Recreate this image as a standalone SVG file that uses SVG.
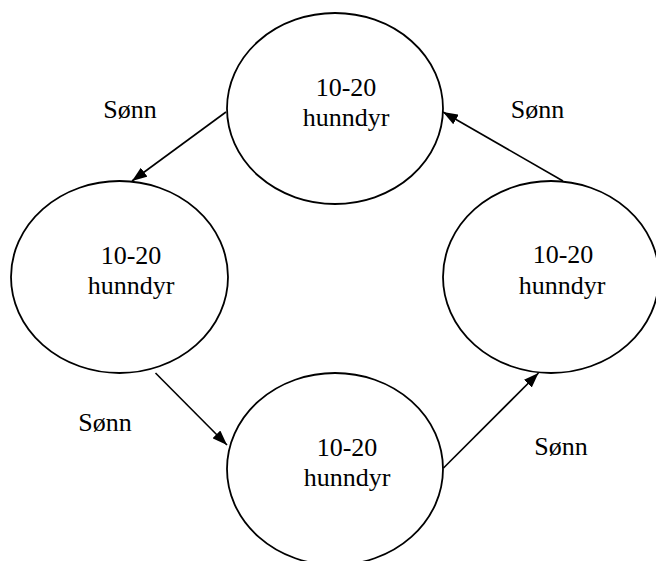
<svg xmlns="http://www.w3.org/2000/svg" width="656" height="561" viewBox="0 0 656 561">
<style>
.n{fill:#fff;stroke:#000;stroke-width:1.8}
.t{font-size:26px;fill:#000;text-anchor:middle}
.c{stroke:#000;stroke-width:1.6;fill:none;marker-end:url(#a)}
</style>
<defs>
<marker id="a" viewBox="0 0 15 11" refX="15" refY="5.5" markerWidth="15" markerHeight="11" markerUnits="userSpaceOnUse" orient="auto">
<path d="M0,0L15,5.5L0,11z" fill="#000"/>
</marker>
</defs>
<rect width="656" height="561" fill="#fff"/>
<g font-family="Liberation Serif, Times New Roman, DejaVu Serif, serif">
<g id="top"><ellipse class="n" cx="335" cy="108.5" rx="108" ry="95.5"/><text class="t" x="346" y="96">10-20</text><text class="t" x="346" y="126">hunndyr</text></g>
<g id="left"><ellipse class="n" cx="119.5" cy="277" rx="108.5" ry="96"/><text class="t" x="131" y="264">10-20</text><text class="t" x="131" y="294">hunndyr</text></g>
<g id="right"><ellipse class="n" cx="551" cy="277" rx="108" ry="96"/><text class="t" x="563" y="263">10-20</text><text class="t" x="562" y="294">hunndyr</text></g>
<g id="bottom"><ellipse class="n" cx="335" cy="469" rx="108" ry="96"/><text class="t" x="347" y="456">10-20</text><text class="t" x="347" y="486">hunndyr</text></g>
<g id="connectors">
<line class="c" x1="226" y1="112" x2="132" y2="181"/>
<line class="c" x1="155.5" y1="373" x2="227" y2="445"/>
<line class="c" x1="443.5" y1="468" x2="538.5" y2="373"/>
<line class="c" x1="563" y1="181" x2="443" y2="112"/>
</g>
<g id="labels">
<text class="t" x="130" y="118">Sønn</text>
<text class="t" x="537.5" y="118">Sønn</text>
<text class="t" x="105" y="431">Sønn</text>
<text class="t" x="561" y="455">Sønn</text>
</g>
</g>
</svg>
